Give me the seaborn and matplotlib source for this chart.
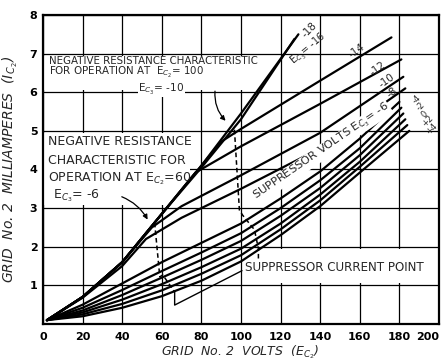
import numpy as np
import pandas as pd
import matplotlib
matplotlib.use('Agg')
import matplotlib.pyplot as plt
import seaborn as sns
from matplotlib.patches import Rectangle

# screen-grid current curves, one per suppressor voltage (Ec3)
v_m18 = [2, 20, 40, 60, 80, 100, 129]
i_m18 = [0.1, 0.7, 1.6, 2.85, 4.1, 5.45, 7.5]
v_m16 = [2, 20, 40, 60, 80, 100, 127]
i_m16 = [0.1, 0.7, 1.6, 2.85, 4.05, 5.3, 7.38]
v_m14 = [2, 20, 40, 60, 80, 90, 100, 140, 176]
i_m14 = [0.1, 0.7, 1.6, 2.85, 4.1, 4.72, 5.05, 6.3, 7.42]
v_m12 = [2, 20, 40, 60, 77, 100, 140, 181]
i_m12 = [0.1, 0.7, 1.6, 2.85, 3.92, 4.6, 5.7, 6.85]
v_m10 = [2, 20, 40, 55, 70, 100, 140, 182]
i_m10 = [0.1, 0.7, 1.6, 2.5, 3.05, 3.85, 4.95, 6.4]
v_m8 = [2, 20, 40, 52, 70, 100, 140, 183]
i_m8 = [0.1, 0.68, 1.5, 2.2, 2.75, 3.5, 4.55, 6.1]
v_m6 = [2, 20, 40, 60, 80, 100, 120, 140, 160, 180]
i_m6 = [0.1, 0.5, 1.05, 1.6, 2.1, 2.6, 3.25, 3.95, 4.8, 5.75]
v_m4 = [2, 20, 40, 60, 80, 100, 120, 140, 160, 181]
i_m4 = [0.1, 0.42, 0.88, 1.37, 1.85, 2.35, 3.0, 3.72, 4.55, 5.6]
v_m2 = [2, 20, 40, 60, 80, 100, 120, 140, 160, 182]
i_m2 = [0.1, 0.35, 0.75, 1.2, 1.66, 2.15, 2.8, 3.52, 4.37, 5.45]
v_0 = [2, 20, 40, 60, 80, 100, 120, 140, 160, 183]
i_0 = [0.1, 0.3, 0.63, 1.03, 1.47, 1.95, 2.6, 3.35, 4.2, 5.3]
v_p2 = [2, 20, 40, 60, 80, 100, 120, 140, 160, 184]
i_p2 = [0.1, 0.25, 0.52, 0.87, 1.3, 1.78, 2.45, 3.2, 4.07, 5.15]
v_p4 = [2, 20, 40, 60, 80, 100, 120, 140, 160, 185]
i_p4 = [0.1, 0.2, 0.42, 0.72, 1.12, 1.62, 2.3, 3.05, 3.92, 5.0]

ec3_names = ['-18', '-16', '-14', '-12', '-10', '-8', '-6', '-4', '-2', '0', '+2', '+4']
all_v = [v_m18, v_m16, v_m14, v_m12, v_m10, v_m8, v_m6, v_m4, v_m2, v_0, v_p2, v_p4]
all_i = [i_m18, i_m16, i_m14, i_m12, i_m10, i_m8, i_m6, i_m4, i_m2, i_0, i_p2, i_p4]

# negative resistance characteristics (dashed) and suppressor current point leader
nr100_v = [96.7, 99.2, 100.8, 106.8, 108.8, 108.8]
nr100_i = [5.03, 2.95, 2.82, 2.44, 1.95, 1.68]
nr60_v = [56.4, 59.0, 60.5, 66.5]
nr60_i = [2.62, 1.22, 1.27, 0.83]
scp_v = [66.5, 66.5, 100.5]
scp_i = [0.85, 0.49, 1.38]

xticks = list(range(0, 201, 20))
yticks = list(range(0, 9))
ytick_labels = [''] + [str(k) for k in range(1, 9)]
low_names = ['-4', '-2', '0', '+2', '+4']

rows = []
for name, vs, cs in zip(ec3_names, all_v, all_i):
    for v, c in zip(vs, cs):
        rows.append({'ec2': v, 'ic2': c, 'ec3': name})
df = pd.DataFrame(rows)

sns.set_style('white')
plt.rcParams['font.family'] = ['DejaVu Sans']
plt.rcParams['mathtext.fontset'] = 'dejavusans'

fig = plt.figure(figsize=(4.44, 3.64), dpi=100)
ax = fig.add_axes([0.0968, 0.1099, 0.8919, 0.8489])

sns.lineplot(data=df, x='ec2', y='ic2', hue='ec3', hue_order=ec3_names,
             palette=['black'] * len(ec3_names), estimator=None, sort=False,
             legend=False, linewidth=1.6, ax=ax, zorder=2)

ax.plot(nr100_v, nr100_i, color='black', lw=1.1, ls=(0, (3, 2)), zorder=2)
ax.plot(nr60_v, nr60_i, color='black', lw=1.1, ls=(0, (3, 2)), zorder=2)
ax.plot(scp_v, scp_i, color='black', lw=1.0, zorder=2)

ax.set_xlim(0, 200)
ax.set_ylim(0, 8)
ax.set_xticks(xticks)
ax.set_yticks(yticks)
ax.set_yticklabels(ytick_labels)
ax.set_axisbelow(True)
ax.grid(True, color='black', lw=0.9)
ax.tick_params(length=0, labelsize=8, colors='black')
ax.tick_params(axis='x', pad=6)
ax.tick_params(axis='y', pad=4)
for lab in ax.get_xticklabels() + ax.get_yticklabels():
    lab.set_fontweight('bold')
ax.get_xticklabels()[-1].set_ha('right')
for s in ax.spines.values():
    s.set_color('black')
    s.set_linewidth(1.6)

ax.set_xlabel(r'GRID  No. 2  VOLTS  (E$_{C_2}$)', fontsize=9, style='italic')
ax.set_ylabel(r'GRID  No. 2  MILLIAMPERES  (I$_{C_2}$)', fontsize=10, style='italic')
ax.xaxis.set_label_coords(0.497, -0.063)
ax.yaxis.set_label_coords(-0.058, 0.5)

# white panels behind the notes
ax.add_patch(Rectangle((0, 6.05), 118, 0.9, facecolor='white', edgecolor='none', zorder=1))
ax.add_patch(Rectangle((0, 3.07), 74, 1.88, facecolor='white', edgecolor='none', zorder=1))
ax.add_patch(Rectangle((101, 1.05), 99, 0.9, facecolor='white', edgecolor='none', zorder=1))

ax.text(3, 6.8, 'NEGATIVE RESISTANCE CHARACTERISTIC', fontsize=7.4, va='center', zorder=4)
ax.text(3, 6.5, r'FOR OPERATION AT  E$_{C_2}$= 100', fontsize=7.4, va='center', zorder=4)
ax.text(48, 6.08, r'E$_{C_3}$= -10', fontsize=7.6, va='center', zorder=4,
        bbox=dict(facecolor='white', edgecolor='none', pad=0.2))

ax.text(2.5, 4.72, 'NEGATIVE RESISTANCE', fontsize=9, va='center', zorder=4)
ax.text(2.5, 4.24, 'CHARACTERISTIC FOR', fontsize=9, va='center', zorder=4)
ax.text(2.5, 3.75, r'OPERATION AT E$_{C_2}$=60', fontsize=9, va='center', zorder=4)
ax.text(5, 3.33, r'E$_{C_3}$= -6', fontsize=9, va='center', zorder=4)

ax.text(102, 1.45, 'SUPPRESSOR CURRENT POINT', fontsize=8.6, va='center', zorder=4)

ax.text(141, 4.45, r'SUPPRESSOR VOLTS E$_{C_3}$= -6', fontsize=8.2, rotation=34.5,
        rotation_mode='anchor', ha='center', va='center', zorder=4,
        bbox=dict(facecolor='white', edgecolor='none', pad=0.2))

ax.annotate('', xy=(93.2, 5.21), xytext=(87, 6.1),
            arrowprops=dict(arrowstyle='-|>', color='black', lw=0.9,
                            connectionstyle='arc3,rad=0.25', mutation_scale=7), zorder=4)
ax.annotate('', xy=(53.5, 2.64), xytext=(38.5, 3.32),
            arrowprops=dict(arrowstyle='-|>', color='black', lw=0.9,
                            connectionstyle='arc3,rad=-0.2', mutation_scale=7), zorder=4)

# curve end labels
ax.text(134.5, 7.62, '-18', fontsize=7.5, rotation=45, ha='center', va='center', zorder=4)
ax.text(134, 7.12, r'E$_{C_3}$= -16', fontsize=7, rotation=40, ha='center', va='center', zorder=4)
ax.text(158.5, 7.08, '-14', fontsize=7.5, rotation=35, ha='center', va='center', zorder=4)
ax.text(169, 6.62, '-12', fontsize=7.5, rotation=35, ha='center', va='center', zorder=4)
ax.text(173.8, 6.3, '-10', fontsize=7.5, rotation=35, ha='center', va='center', zorder=4)
ax.text(176.5, 6.0, '-8', fontsize=7.5, rotation=35, ha='center', va='center', zorder=4)
for k, name in enumerate(low_names):
    ax.text(189 + 1.8 * k, 5.82 - 0.19 * k, name, fontsize=6, rotation=45,
            ha='center', va='center', zorder=4)

fig.savefig('out.png', dpi=100)
